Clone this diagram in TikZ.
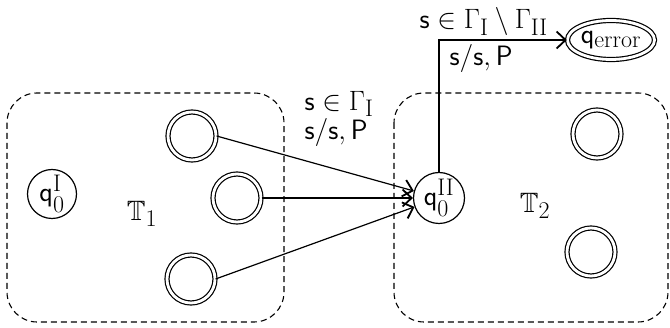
\RequirePackage{fix-cm}
\documentclass[tikz,border=0pt]{standalone}
\usepackage{amssymb}
\usetikzlibrary{arrows.meta,shapes.geometric}
% roman index set at a fixed, fairly large size
\newcommand{\idx}[1]{\mbox{\fontsize{24}{26}\selectfont\rmfamily #1}}
\begin{document}
\begin{tikzpicture}[x=1pt,y=-1pt,
  font=\fontsize{28}{33}\selectfont,
  every path/.style={line width=1.2pt},
  region/.style={draw,dash pattern=on 6pt off 4pt,rounded corners=30pt,line width=1.1pt},
  state/.style={circle,draw,line width=1.2pt,minimum size=50pt,inner sep=0pt},
  final/.style={circle,draw,double,double distance=2.8pt,line width=1.2pt,minimum size=48pt,inner sep=0pt},
  trans/.style={draw,-{Straight Barb[length=9pt,width=17pt,line width=1.8pt]},line width=1.2pt},
  lbl/.style={inner sep=0pt,anchor=west}]
  \useasboundingbox (0,0) rectangle (670,328);

  % the two component regions
  \draw[region] (7,93) rectangle (284,322);
  \draw[region] (394,93) rectangle (668,322);
  \node (T1) at (142,214) {$\mathbb{T}_{\idx{1}}$};
  \node (T2) at (535,206) {$\mathbb{T}_{\idx{2}}$};

  % states of T1
  \node[state,minimum size=49pt] (q0I) at (52,194) {$\mathsf{q}_{\idx{0}}^{\idx{I}}$};
  \node[final] (f1) at (192,136) {};
  \node[final] (f2) at (237,198) {};
  \node[final] (f3) at (191,279) {};

  % states of T2
  \node[state,minimum size=51pt] (q0II) at (439,198) {$\mathsf{q}_{\idx{0}}^{\idx{II}}$};
  \node[final] (g1) at (597,134) {};
  \node[final] (g2) at (591,252) {};

  % error state
  \node[ellipse,draw,double,double distance=2.8pt,line width=1.2pt,
        minimum width=87pt,minimum height=39pt,inner sep=0pt] (qerr) at (611,40)
        {$\mathsf{q}_{\idx{error}}$};

  % transitions from the final states of T1 into T2
  \draw[trans] (f1.east) -- (q0II);
  \draw[trans] (f2.east) -- (q0II);
  \draw[trans] (f3.east) -- (q0II);
  \node[lbl] (l1) at (304,104) {$\mathsf{s}\in\Gamma_{\idx{I}}$};
  \node[lbl] (l2) at (304,133) {$\mathsf{s/s,P}$};

  % transition to the error state
  \coordinate (bend) at (q0II.center |- qerr.west);
  \draw[trans] (q0II.north) -- (bend) -- (qerr.west);
  \node[lbl] (l3) at (419,22) {$\mathsf{s}\in\Gamma_{\idx{I}}\setminus\Gamma_{\idx{II}}$};
  \node[lbl] (l4) at (449,59) {$\mathsf{s/s,P}$};
\end{tikzpicture}
\end{document}
